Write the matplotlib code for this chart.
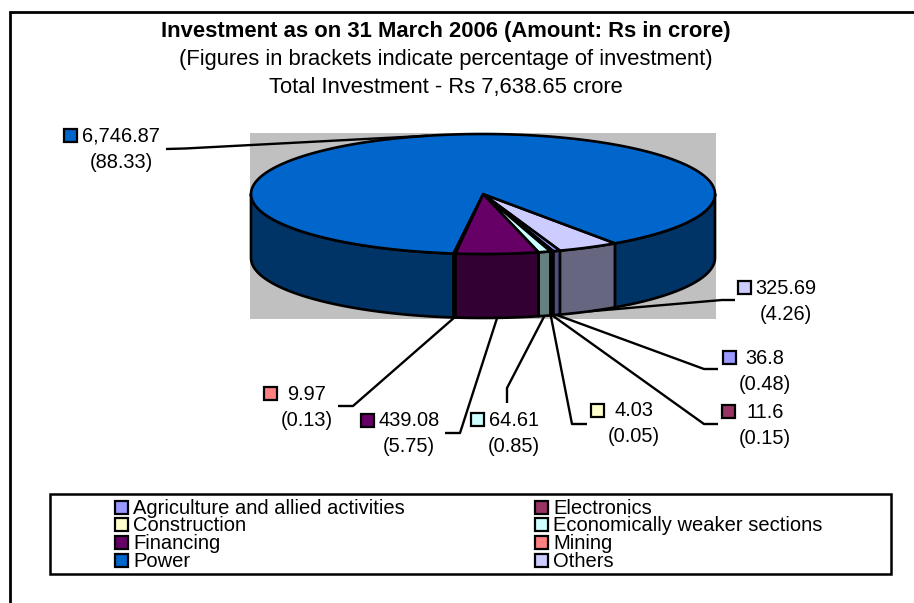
import numpy as np
import matplotlib
matplotlib.use("Agg")
import matplotlib.pyplot as plt
from matplotlib.colors import to_rgb
from matplotlib.patches import Rectangle, Polygon

plt.rcParams['font.family'] = ['Liberation Sans', 'DejaVu Sans']

# Data, clockwise round the pie starting from the right edge of Others
sectors = ['Others', 'Agriculture and allied activities', 'Electronics', 'Construction',
           'Economically weaker sections', 'Financing', 'Mining', 'Power']
amounts = [325.69, 36.8, 11.6, 4.03, 64.61, 439.08, 9.97, 6746.87]
amount_text = ['325.69', '36.8', '11.6', '4.03', '64.61', '439.08', '9.97', '6,746.87']
percent_text = ['(4.26)', '(0.48)', '(0.15)', '(0.05)', '(0.85)', '(5.75)', '(0.13)', '(88.33)']
colors = ['#CCCCFF', '#9999FF', '#993366', '#FFFFCC', '#CCFFFF', '#660066', '#FF8080', '#0066CC']

legend_order = ['Agriculture and allied activities', 'Electronics', 'Construction',
                'Economically weaker sections', 'Financing', 'Mining', 'Power', 'Others']

title_lines = ['Investment as on 31 March 2006 (Amount: Rs in crore)',
               '(Figures in brackets indicate percentage of investment)',
               'Total Investment - Rs 7,638.65 crore']

# Layout in pixels
cx, cy, rx, ry, depth = 483, 194, 232, 60, 64
start_angle = -34.7
# swatch x, swatch y, text x, elbow points of the leader
label_layout = {
    'Others': (744, 287, 786, [(735, 300), (722, 300)]),
    'Agriculture and allied activities': (729, 357, 765, [(718, 369), (704, 369)]),
    'Electronics': (728, 411, 765, [(718, 424), (704, 424)]),
    'Construction': (597, 410, 634, [(587, 424), (572, 424)]),
    'Economically weaker sections': (477, 419, 514, [(507, 403), (507, 388)]),
    'Financing': (367, 420, 409, [(445, 433), (460, 433)]),
    'Mining': (270, 393, 307, [(338, 406), (353, 406)]),
    'Power': (70, 135, 121, [(166, 149), (185, 148.5)]),
}


def rim(t, dy=0):
    t = np.radians(t)
    return np.column_stack([cx - rx * np.sin(t), cy + dy + ry * np.cos(t)])


fig = plt.figure(figsize=(9.14, 6.03), dpi=100)
ax = fig.add_axes([0, 0, 1, 1])
ax.set_xlim(0, 914)
ax.set_ylim(603, 0)
ax.axis('off')

# Outer chart border runs off the right and bottom of the image
ax.plot([9.5, 9.5, 914], [603, 11.5, 11.5], color='black', lw=2.0, solid_joinstyle='miter')

# Grey plot area
ax.add_patch(Rectangle((cx - rx - 1, cy - ry - 1), 2 * rx + 2, 2 * ry + depth + 2,
                       facecolor='#C0C0C0', edgecolor='none'))

angles = np.array(amounts) / sum(amounts) * 360
edges = start_angle + np.concatenate([[0], np.cumsum(angles)])

# Side wall, only the front half can be seen
for i, col in enumerate(colors):
    for shift in (0, -360):
        a = max(edges[i] + shift, -90)
        b = min(edges[i + 1] + shift, 90)
        if b <= a:
            continue
        t = np.linspace(a, b, 60)
        pts = np.vstack([rim(t), rim(t[::-1], depth)])
        ax.add_patch(Polygon(pts, closed=True, facecolor=np.array(to_rgb(col)) * 0.5,
                             edgecolor='black', lw=1.9, joinstyle='round'))

# Top face
for i, col in enumerate(colors):
    t = np.linspace(edges[i], edges[i + 1], 300)
    pts = np.vstack([[(cx, cy)], rim(t)])
    ax.add_patch(Polygon(pts, closed=True, facecolor=col, edgecolor='black',
                         lw=1.9, joinstyle='round'))

# Data labels with leaders going to the middle of each slice
for i, name in enumerate(sectors):
    sx, sy, tx, elbow = label_layout[name]
    mid = (edges[i] + edges[i + 1]) / 2
    if name == 'Power':
        anchor = rim(mid)[0]
    else:
        anchor = rim(mid, depth)[0]
    pts = np.array(elbow + [tuple(anchor)])
    ax.plot(pts[:, 0], pts[:, 1], color='black', lw=1.7, solid_capstyle='butt')
    ax.add_patch(Rectangle((sx - 6.5, sy - 6.5), 13, 13, facecolor=colors[i], edgecolor='black', lw=1.6))
    ax.text(tx, sy + 1, amount_text[i], ha='center', va='center', fontsize=14.4, color='black')
    ax.text(tx, sy + 27, percent_text[i], ha='center', va='center', fontsize=14.4, color='black')

# Titles
ax.text(445.5, 32, title_lines[0], ha='center', va='center', fontsize=15.8, fontweight='bold')
ax.text(445.5, 60, title_lines[1], ha='center', va='center', fontsize=15.8)
ax.text(445.5, 88, title_lines[2], ha='center', va='center', fontsize=15.8)

# Legend box, two columns filled row by row
ax.add_patch(Rectangle((50, 493.5), 841, 80.5, facecolor='white', edgecolor='black', lw=1.8))
for j, name in enumerate(legend_order):
    col_x = 115 if j % 2 == 0 else 535
    y = 507 + (j // 2) * 17.7
    ax.add_patch(Rectangle((col_x, y - 6.5), 13, 13, facecolor=colors[sectors.index(name)],
                           edgecolor='black', lw=1.6))
    ax.text(col_x + 18, y + 1, name, ha='left', va='center', fontsize=14.5)

fig.savefig('out.png', dpi=100, facecolor='white')
